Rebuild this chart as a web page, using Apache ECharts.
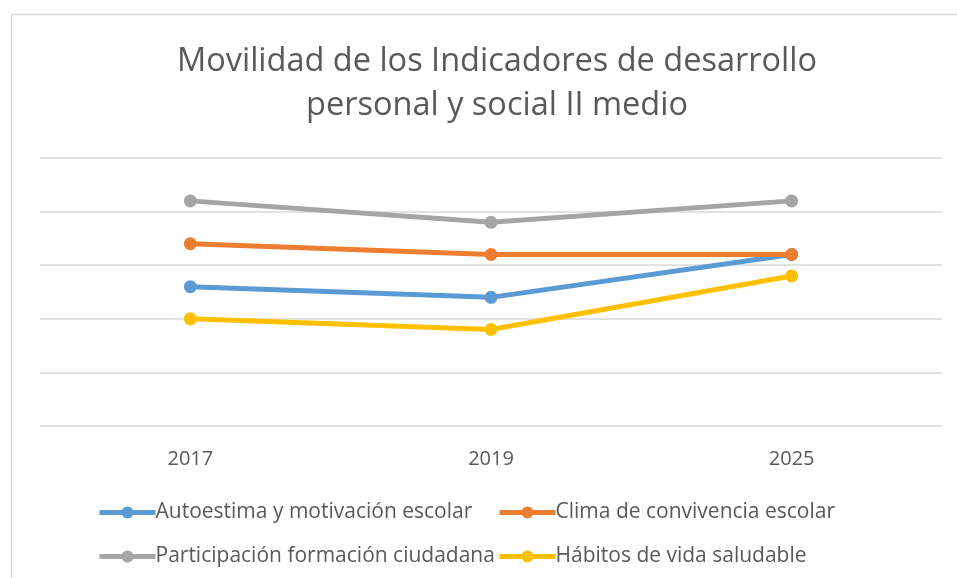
<!DOCTYPE html>
<html>
<head>
<meta charset="utf-8">
<script src="https://cdn.jsdelivr.net/npm/echarts@6/dist/echarts.min.js"></script>
<style>
  html, body { margin: 0; padding: 0; background: #fff; }
  #main { width: 957px; height: 578px; }
</style>
</head>
<body>
<div id="main"></div>
<script>
  // años evaluados
  var years = ['2017', '2019', '2025'];
  // puntajes de cada indicador
  var autoestima = [73, 72, 76];
  var clima = [77, 76, 76];
  var participacion = [81, 79, 81];
  var habitos = [70, 69, 74];

  var colors = ['#5B9BD5', '#ED7D31', '#A5A5A5', '#FFC000'];
  var names = [
    'Autoestima y motivación escolar',
    'Clima de convivencia escolar',
    'Participación formación ciudadana',
    'Hábitos de vida saludable'
  ];
  var values = [autoestima, clima, participacion, habitos];

  var font = '"Open Sans", sans-serif';

  function makeSeries(i) {
    return {
      name: names[i],
      type: 'line',
      data: values[i],
      symbol: 'circle',
      symbolSize: 13,
      color: colors[i],
      lineStyle: { width: 5, color: colors[i] },
      itemStyle: { color: colors[i] }
    };
  }

  function makeLegend(i, left, top) {
    return {
      data: [names[i]],
      left: left,
      top: top,
      itemWidth: 56,
      itemHeight: 15,
      itemGap: 0,
      lineStyle: { width: 5 },
      textStyle: { fontFamily: font, fontSize: 21, color: '#595959', padding: [0, 0, 0, -5] }
    };
  }

  var myChart = echarts.init(document.getElementById('main'));
  myChart.setOption({
    animation: false,
    title: {
      text: 'Movilidad de los Indicadores de desarrollo\npersonal y social II medio',
      left: 492,
      textAlign: 'center',
      top: 35,
      textStyle: {
        fontFamily: font,
        fontSize: 32.5,
        fontWeight: 'normal',
        color: '#595959',
        lineHeight: 44
      }
    },
    graphic: [{
      type: 'rect',
      shape: { x: 11.5, y: 14.5, width: 960, height: 600 },
      style: { fill: 'none', stroke: '#D9D9D9', lineWidth: 1.5 },
      silent: true
    }],
    legend: [
      makeLegend(0, 92, 497),
      makeLegend(1, 492, 497),
      makeLegend(2, 92, 541),
      makeLegend(3, 492, 541)
    ],
    grid: { left: 40, right: 15, top: 158, bottom: 152 },
    xAxis: {
      type: 'category',
      data: years,
      boundaryGap: true,
      axisLine: { show: false },
      axisTick: { show: false },
      axisLabel: { fontFamily: font, fontSize: 20, color: '#595959', margin: 23 }
    },
    yAxis: {
      type: 'value',
      min: 60,
      max: 85,
      interval: 5,
      axisLabel: { show: false },
      axisLine: { show: false },
      axisTick: { show: false },
      splitLine: { lineStyle: { color: '#D9D9D9', width: 1.5 } }
    },
    series: [makeSeries(0), makeSeries(1), makeSeries(2), makeSeries(3)]
  });
</script>
</body>
</html>
